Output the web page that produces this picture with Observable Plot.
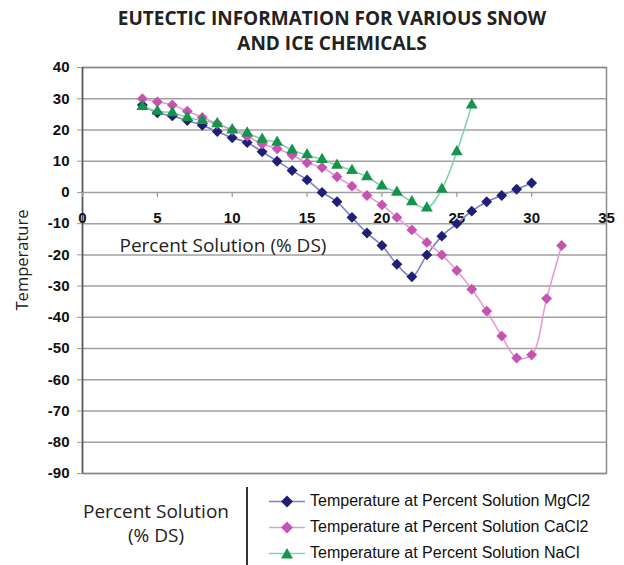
<!DOCTYPE html>
<html><head><meta charset="utf-8">
<script src="https://cdn.jsdelivr.net/npm/d3@7"></script>
<script src="https://cdn.jsdelivr.net/npm/@observablehq/plot@0.6"></script>
<style>
html,body{margin:0;padding:0;background:#fff;}
body{width:624px;height:565px;position:relative;overflow:hidden;}
#title{position:absolute;left:0;top:6px;width:664px;text-align:center;font:bold 19px/25px "Open Sans";color:#222;}
#plot{position:absolute;left:0;top:56px;}
#ylab{position:absolute;left:-78px;top:248px;width:200px;text-align:center;font:16.5px/24px "Open Sans";color:#222;transform:rotate(-90deg);}
#xname{position:absolute;left:56px;top:499px;width:200px;text-align:center;font:19px/24px "Open Sans";color:#222;}
#vline{position:absolute;left:246px;top:487px;width:1.5px;height:78px;background:#333;}
#legend{position:absolute;left:268px;top:488px;font:16px/26px "Liberation Sans",Arial;color:#111;}
#legend div{display:flex;align-items:center;height:26px;}
#legend svg{margin-right:4px;}
</style></head><body>
<div id="title">EUTECTIC INFORMATION FOR VARIOUS SNOW<br>AND ICE CHEMICALS</div>
<div id="plot"></div>
<div id="ylab">Temperature</div>
<div id="xname">Percent Solution<br>(% DS)</div>
<div id="vline"></div>
<div id="legend"></div>
<script>
const xTicks = [0, 5, 10, 15, 20, 25, 30, 35];
const yTicks = [40, 30, 20, 10, 0, -10, -20, -30, -40, -50, -60, -70, -80, -90];

const seriesNames = ["MgCl2", "CaCl2", "NaCl"];
const legendLabels = ["Temperature at Percent Solution MgCl2", "Temperature at Percent Solution CaCl2", "Temperature at Percent Solution NaCl"];
const lineColors = ["#7f7fc4", "#e49cd6", "#82d4aa"];
const markerColors = ["#1f1f75", "#c653b1", "#15944b"];
const markerSymbols = ["diamond2", "diamond2", "triangle"];

const mgPct  = [4,5,6,7,8,9,10,11,12,13,14,15,16,17,18,19,20,21,22,23,24,25,26,27,28,29,30];
const mgTemp = [28,25.5,24.5,23,21.5,19.5,17.5,16,13,10,7,4,0,-3,-8,-13,-17,-23,-27,-20,-14,-10,-6,-3,-1,1,3];
const caPct  = [4,5,6,7,8,9,10,11,12,13,14,15,16,17,18,19,20,21,22,23,24,25,26,27,28,29,30,31,32];
const caTemp = [30,29,28,26,24,22,20,18,15.5,14,12,9.5,8,5,2,-1,-4,-8,-12,-16,-20,-25,-31,-38,-46,-53,-52,-34,-17];
const naPct  = [4,5,6,7,8,9,10,11,12,13,14,15,16,17,18,19,20,21,22,23,24,25,26];
const naTemp = [27.5,26,25.5,24,23,22,20,19,17,16,13.5,12,10.5,8.7,7,5,2,0,-3,-5,1,13,28];

const pcts = [mgPct, caPct, naPct];
const temps = [mgTemp, caTemp, naTemp];
const rows = seriesNames.map((s, i) => pcts[i].map((p, j) => ({series: s, idx: i, pct: p, temp: temps[i][j]})));

const marks = [
  Plot.gridY(yTicks, {stroke: "#a0a0a0", strokeOpacity: 1, strokeWidth: 1.5}),
  Plot.frame({stroke: "#8a8a8a", strokeWidth: 1.5}),
  Plot.ruleX([xTicks[0]], {stroke: "#555", strokeWidth: 1.5}),
  Plot.axisY(yTicks, {tickSize: 5, tickPadding: 8, fontSize: 15, fontWeight: "bold", stroke: "#999", fill: "#111", label: null, tickFormat: d => String(d)}),
  Plot.ruleX(xTicks, {x: d => d, y1: 0, y2: -1.6, stroke: "#999", strokeWidth: 1.2}),
  Plot.text(xTicks, {x: d => d, y: 0, text: d => String(d), dy: 26, fontSize: 15, fontWeight: "bold", fill: "#111"}),
  Plot.text(["Percent Solution (% DS)"], {frameAnchor: "top-left", text: d => d, dx: 37, dy: 171, textAnchor: "start", fontFamily: "Open Sans", fontSize: 19, fill: "#222"})
];
rows.forEach((r, i) => marks.push(Plot.line(r, {x: "pct", y: "temp", stroke: lineColors[i], strokeWidth: 1.6, curve: "catmull-rom"})));
rows.forEach((r, i) => marks.push(Plot.dot(r, {x: "pct", y: "temp", symbol: markerSymbols[i], r: i === 2 ? 4.4 : 4.9, fill: markerColors[i], stroke: "none"})));

const chart = Plot.plot({
  width: 624, height: 422,
  marginLeft: 82, marginRight: 18, marginTop: 11, marginBottom: 5,
  x: {domain: [xTicks[0], xTicks[xTicks.length - 1]], axis: null},
  y: {domain: [yTicks[yTicks.length - 1], yTicks[0]]},
  style: {fontFamily: "'Liberation Sans', Arial, sans-serif", background: "white", overflow: "visible"},
  marks
});
document.getElementById("plot").appendChild(chart);

const leg = document.getElementById("legend");
seriesNames.forEach((s, i) => {
  const row = document.createElement("div");
  const sym = markerSymbols[i] === "triangle"
    ? `<path d="M19,1 L25,11.5 L13,11.5 Z" fill="${markerColors[i]}"/>`
    : `<path d="M19,0.5 L25,6.5 L19,12.5 L13,6.5 Z" fill="${markerColors[i]}"/>`;
  row.innerHTML = `<svg width="38" height="13"><line x1="1" x2="37" y1="6.5" y2="6.5" stroke="${lineColors[i]}" stroke-width="1.6"/>${sym}</svg><span>${legendLabels[i]}</span>`;
  leg.appendChild(row);
});
</script>
</body></html>
